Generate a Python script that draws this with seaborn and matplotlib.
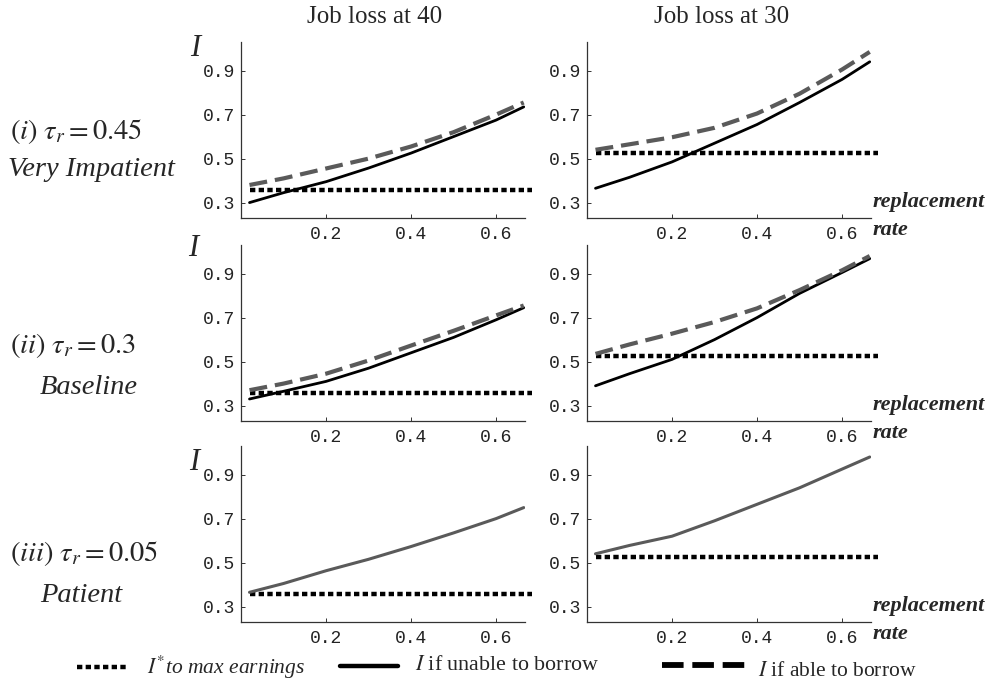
import matplotlib
matplotlib.use("Agg")
import matplotlib.pyplot as plt
from matplotlib.lines import Line2D
import seaborn as sns
import numpy as np

# replacement rate grid shared by all panels
rate = [0.02, 0.1, 0.2, 0.3, 0.4, 0.5, 0.6, 0.665]
rate_star = [0.02, 0.685]

# I if unable to borrow (solid), I if able to borrow (dashed), I* (dotted)
# row (i) very impatient
unable_i_40 = [0.30, 0.345, 0.395, 0.457, 0.525, 0.60, 0.675, 0.735]
able_i_40 = [0.38, 0.41, 0.455, 0.50, 0.555, 0.62, 0.70, 0.755]
unable_i_30 = [0.365, 0.415, 0.485, 0.57, 0.655, 0.755, 0.86, 0.94]
able_i_30 = [0.54, 0.565, 0.597, 0.64, 0.705, 0.795, 0.905, 0.985]
# row (ii) baseline
unable_ii_40 = [0.33, 0.365, 0.41, 0.47, 0.54, 0.61, 0.69, 0.745]
able_ii_40 = [0.37, 0.40, 0.445, 0.505, 0.573, 0.64, 0.71, 0.755]
unable_ii_30 = [0.39, 0.445, 0.51, 0.60, 0.70, 0.81, 0.905, 0.968]
able_ii_30 = [0.535, 0.578, 0.627, 0.68, 0.742, 0.825, 0.915, 0.98]
# row (iii) patient: both curves coincide
both_iii_40 = [0.365, 0.405, 0.463, 0.515, 0.573, 0.635, 0.70, 0.75]
both_iii_30 = [0.54, 0.578, 0.62, 0.69, 0.765, 0.84, 0.925, 0.98]

istar_40 = 0.358
istar_30 = 0.525

col_titles = ["Job loss at 40", "Job loss at 30"]
row_math = [r"$(i)\ \tau_r = 0.45$", r"$(ii)\ \tau_r = 0.3$", r"$(iii)\ \tau_r = 0.05$"]
row_names = ["Very Impatient", "Baseline", "Patient"]
yticks = [0.3, 0.5, 0.7, 0.9]
xticks = [0.2, 0.4, 0.6]

sns.set_style("ticks")
plt.rcParams['font.family'] = ['Liberation Serif', 'DejaVu Serif']
plt.rcParams['mathtext.fontset'] = 'stix'

W, H = 987, 681
fig = plt.figure(figsize=(W / 100, H / 100), dpi=100)

def fx(x):
    return x / W

def fy(y):
    return 1 - y / H

DOT = (0, (1.2, 0.75))
DASH = (0, (4.3, 1.9))
GRAY = "#5a5a5a"

col_left = [241, 587]
row_bottom = [218, 421, 622]
ax_w, ax_h = 284, 176

panels = [
    [(unable_i_40, able_i_40, istar_40), (unable_i_30, able_i_30, istar_30)],
    [(unable_ii_40, able_ii_40, istar_40), (unable_ii_30, able_ii_30, istar_30)],
    [(both_iii_40, None, istar_40), (both_iii_30, None, istar_30)],
]

for r in range(3):
    for c in range(2):
        ax = fig.add_axes([fx(col_left[c]), fy(row_bottom[r]), fx(ax_w), ax_h / H])
        unable, able, istar = panels[r][c]
        sns.lineplot(x=rate_star, y=[istar, istar], ax=ax, color="black", lw=3.2,
                     linestyle=DOT, clip_on=False, solid_capstyle='butt', dash_capstyle='butt')
        if able is None:
            sns.lineplot(x=rate, y=unable, ax=ax, color=GRAY, lw=2.2)
        else:
            sns.lineplot(x=rate, y=unable, ax=ax, color="black", lw=2.0)
            sns.lineplot(x=rate, y=able, ax=ax, color=GRAY, lw=3.0,
                         linestyle=DASH, dash_capstyle='butt')
        ax.set_xlim(0, 0.668)
        ax.set_ylim(0.23, 1.03)
        ax.set_xticks(xticks)
        ax.set_yticks(yticks)
        ax.set_xticklabels(["0.2", "0.4", "0.6"])
        ax.set_yticklabels(["0.3", "0.5", "0.7", "0.9"])
        ax.set_xlabel("")
        ax.set_ylabel("")
        for s in ["top", "right"]:
            ax.spines[s].set_visible(False)
        for s in ["left", "bottom"]:
            ax.spines[s].set_color("#333333")
            ax.spines[s].set_linewidth(0.9)
        ax.tick_params(axis="both", direction="in", length=3, width=0.7, color="#333333",
                       labelsize=13, labelcolor="#222222")
        ax.tick_params(axis="x", pad=6)
        ax.tick_params(axis="y", pad=4)
        for lab in ax.get_xticklabels() + ax.get_yticklabels():
            lab.set_family(["Liberation Mono", "DejaVu Sans Mono"])
        ax.patch.set_alpha(0)

# column titles
fig.text(fx(375), fy(17), col_titles[0], ha="center", va="center", fontsize=18)
fig.text(fx(722), fy(17), col_titles[1], ha="center", va="center", fontsize=18)

# row labels
row_y1 = [132, 345, 553]
row_y2 = [170, 387, 595]
row_x2 = [8, 40, 40]
for r in range(3):
    fig.text(fx(10), fy(row_y1[r]), row_math[r], ha="left", va="center", fontsize=20.5)
    fig.text(fx(row_x2[r]), fy(row_y2[r]), row_names[r], ha="left", va="center",
             fontsize=20.5, style="italic")

# big I labels
for (x, y) in [(195, 48), (193, 249), (194, 463)]:
    fig.text(fx(x), fy(y), "I", ha="center", va="center", fontsize=22, style="italic")

# replacement rate labels
for yb in [218, 421, 622]:
    fig.text(fx(873), fy(yb - 16), "replacement", ha="left", va="center",
             fontsize=16, style="italic", weight="bold")
    fig.text(fx(873), fy(yb + 12), "rate", ha="left", va="center",
             fontsize=16, style="italic", weight="bold")

# legend
fig.add_artist(Line2D([fx(77), fx(128)], [fy(667), fy(667)], color="black", lw=3.2,
                      linestyle=DOT, dash_capstyle='butt'))
fig.add_artist(Line2D([fx(340), fx(398)], [fy(666), fy(666)], color="black", lw=3.2))
fig.add_artist(Line2D([fx(662), fx(753)], [fy(665), fy(665)], color="black", lw=4.2,
                      linestyle=(0, (3.7, 1.5)), dash_capstyle='butt'))
fig.text(fx(147), fy(667), r"$I^{*}$to max earnings", ha="left", va="center",
         fontsize=15.5, style="italic")
fig.text(fx(415), fy(666), r"$I$ if unable to borrow", ha="left", va="center", fontsize=15.8)
fig.text(fx(758), fy(672), r"$I$ if able to borrow", ha="left", va="center", fontsize=15.5)

fig.savefig("out.png", dpi=100)
